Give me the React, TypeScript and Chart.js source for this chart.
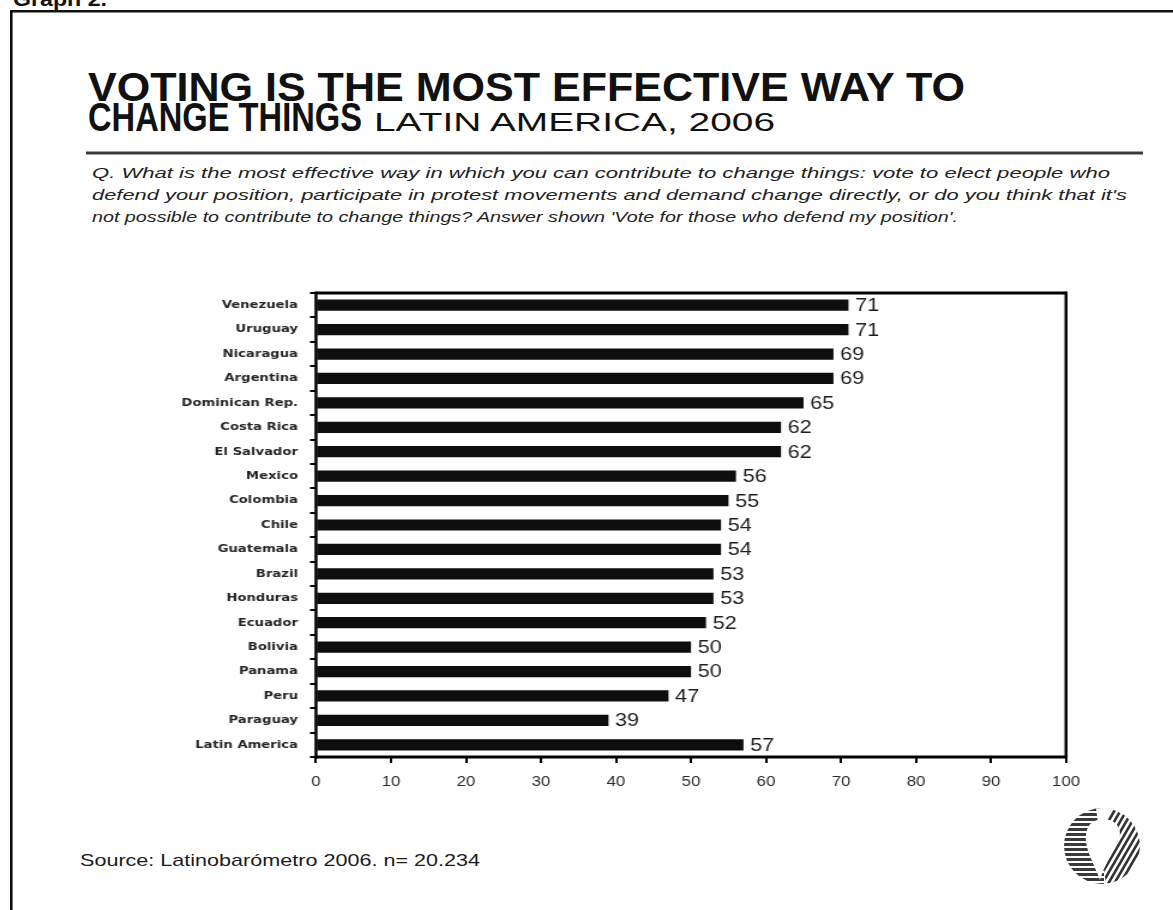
import React, { useEffect, useRef } from 'react';
import { Chart, registerables } from 'chart.js';

Chart.register(...registerables);

// ---------- data ----------
const CATEGORIES = [
  'Venezuela', 'Uruguay', 'Nicaragua', 'Argentina', 'Dominican Rep.', 'Costa Rica',
  'El Salvador', 'Mexico', 'Colombia', 'Chile', 'Guatemala', 'Brazil', 'Honduras',
  'Ecuador', 'Bolivia', 'Panama', 'Peru', 'Paraguay', 'Latin America',
];
const VALUES = [71, 71, 69, 69, 65, 62, 62, 56, 55, 54, 54, 53, 53, 52, 50, 50, 47, 39, 57];
const X_TICKS = [0, 10, 20, 30, 40, 50, 60, 70, 80, 90, 100];

const HEADER = 'Graph 2.';
const TITLE_LINE1 = 'VOTING IS THE MOST EFFECTIVE WAY TO';
const TITLE_LINE2 = 'CHANGE THINGS';
const TITLE_SUB = 'LATIN AMERICA, 2006';
const QUESTION = [
  'Q. What is the most effective way in which you can contribute to change things: vote to elect people who',
  "defend your position, participate in protest movements and demand change directly, or do you think that it's",
  "not possible to contribute to change things? Answer shown 'Vote for those who defend my position'.",
];
const SOURCE = 'Source: Latinobarómetro 2006. n= 20.234';

// ---------- layout ----------
const PAGE_W = 1173;
const PAGE_H = 910;
const CANVAS_W = 978; // rendered width, stretched to PAGE_W (the original is horizontally stretched)
const SX = PAGE_W / CANVAS_W;
const PLOT_LEFT = 316;
const PLOT_RIGHT = 1066;
const PLOT_TOP = 293;
const PLOT_BOTTOM = 757;
const X_AXIS_H = 40;

const QUESTION_LAYOUT = [
  { y: 178, w: 1018 },
  { y: 200, w: 1035 },
  { y: 222, w: 866 },
];

const framePlugin = {
  id: 'plotFrame',
  afterDraw(chart: any) {
    const { ctx, chartArea: a } = chart;
    ctx.save();
    ctx.strokeStyle = '#000';
    ctx.lineWidth = 3;
    ctx.beginPath();
    ctx.moveTo(a.left, a.top);
    ctx.lineTo(a.right, a.top);
    ctx.moveTo(a.left, a.bottom);
    ctx.lineTo(a.right, a.bottom);
    ctx.stroke();
    ctx.lineWidth = 2.5;
    ctx.beginPath();
    ctx.moveTo(a.left, a.top - 1.5);
    ctx.lineTo(a.left, a.bottom + 1.5);
    ctx.moveTo(a.right, a.top - 1.5);
    ctx.lineTo(a.right, a.bottom + 1.5);
    ctx.stroke();
    ctx.restore();
  },
};

const valueLabelPlugin = {
  id: 'valueLabels',
  afterDatasetsDraw(chart: any) {
    const { ctx } = chart;
    const meta = chart.getDatasetMeta(0);
    const data = chart.data.datasets[0].data;
    ctx.save();
    ctx.font = '18px "Liberation Sans", Arial, sans-serif';
    ctx.fillStyle = '#1c1c1c';
    ctx.textAlign = 'left';
    ctx.textBaseline = 'middle';
    meta.data.forEach((el: any, i: number) => {
      ctx.fillText(String(data[i]), el.x + 5.5, el.y + 1);
    });
    ctx.restore();
  },
};

function BarChart() {
  const ref = useRef<HTMLCanvasElement | null>(null);
  useEffect(() => {
    if (!ref.current) return;
    const chart = new Chart(ref.current, {
      type: 'bar',
      data: {
        labels: CATEGORIES,
        datasets: [
          {
            data: VALUES,
            backgroundColor: '#0e0e0e',
            borderWidth: 0,
            barPercentage: 0.46,
            categoryPercentage: 1,
          },
        ],
      },
      options: {
        indexAxis: 'y',
        responsive: false,
        animation: false,
        devicePixelRatio: 1,
        events: [],
        layout: {
          padding: {
            left: 0,
            top: PLOT_TOP,
            right: CANVAS_W - PLOT_RIGHT / SX,
            bottom: PAGE_H - PLOT_BOTTOM - X_AXIS_H,
          },
        },
        plugins: {
          legend: { display: false },
          tooltip: { enabled: false },
          title: { display: false },
        },
        scales: {
          x: {
            type: 'linear',
            position: 'bottom',
            min: 0,
            max: 100,
            afterBuildTicks: (s: any) => {
              s.ticks = X_TICKS.map((v) => ({ value: v }));
            },
            afterFit: (s: any) => {
              s.height = X_AXIS_H;
            },
            ticks: {
              font: { family: '"Liberation Sans", Arial, sans-serif', size: 14 },
              color: '#2a2a2a',
              padding: 11,
              maxRotation: 0,
              autoSkip: false,
            },
            grid: { drawOnChartArea: false, drawTicks: true, tickLength: 6, color: '#000', lineWidth: 2 },
            border: { display: false },
          },
          y: {
            type: 'category',
            afterFit: (s: any) => {
              s.width = PLOT_LEFT / SX;
            },
            ticks: {
              font: { family: '"DejaVu Sans", sans-serif', size: 11, weight: 'bold' },
              color: '#262626',
              padding: 10,
              autoSkip: false,
            },
            grid: { drawOnChartArea: false, drawTicks: true, tickLength: 5, color: '#000', lineWidth: 2, offset: true },
            border: { display: false },
          },
        },
      },
      plugins: [framePlugin, valueLabelPlugin],
    } as any);
    return () => chart.destroy();
  }, []);
  return (
    <canvas
      ref={ref}
      width={CANVAS_W}
      height={PAGE_H}
      style={{ position: 'absolute', left: 0, top: 0, width: PAGE_W + 'px', height: PAGE_H + 'px' }}
    />
  );
}

function Logo() {
  const cx = 1102;
  const cy = 846;
  const r = 38;
  const hStripes: number[] = [];
  for (let y = cy - r; y < cy + r; y += 5) hStripes.push(y);
  const dStripes: number[] = [];
  for (let x = cx - 30; x < cx + 70; x += 6) dStripes.push(x);
  return (
    <g>
      <defs>
        <clipPath id="logoClip">
          <circle cx={cx} cy={cy} r={r} />
        </clipPath>
        <clipPath id="logoRight">
          <path d={`M${cx - 6} ${cy - r} L${cx + r} ${cy - r} L${cx + r} ${cy + r} L${cx + 4} ${cy + r} Z`} />
        </clipPath>
      </defs>
      <g clipPath="url(#logoClip)">
        {hStripes.map((y) => (
          <rect key={'h' + y} x={cx - r} y={y} width={r + 2} height={3} fill="#3a3a3a" />
        ))}
        <g clipPath="url(#logoRight)">
          <rect x={cx - 8} y={cy - r} width={r + 10} height={2 * r} fill="#fff" />
          {dStripes.map((x) => (
            <line key={'d' + x} x1={x} y1={cy + r} x2={x + 44} y2={cy - r} stroke="#333" strokeWidth={2.6} />
          ))}
        </g>
        <path
          d={`M${cx - 4} ${cy - 26} C ${cx + 14} ${cy - 30}, ${cx + 22} ${cy - 16}, ${cx + 16} ${cy - 4} C ${cx + 10} ${cy + 8}, ${cx + 2} ${cy + 20}, ${cx - 2} ${cy + 34} C ${cx - 8} ${cy + 18}, ${cx - 18} ${cy + 2}, ${cx - 16} ${cy - 12} C ${cx - 14} ${cy - 22}, ${cx - 10} ${cy - 25}, ${cx - 4} ${cy - 26} Z`}
          fill="#fff"
        />
      </g>
    </g>
  );
}

function Decorations() {
  const sans = '"Liberation Sans", Arial, Helvetica, sans-serif';
  const narrow = '"Liberation Sans Narrow", "Arial Narrow", "Liberation Sans", Arial, sans-serif';
  return (
    <svg
      width={PAGE_W}
      height={PAGE_H}
      style={{ position: 'absolute', left: 0, top: 0 }}
      xmlns="http://www.w3.org/2000/svg"
    >
      <rect x={0} y={0} width={PAGE_W} height={PAGE_H} fill="#fff" />
      <path d={`M11.3 ${PAGE_H} V11.3 H${PAGE_W}`} stroke="#111" strokeWidth={2.6} fill="none" />
      <text x={13} y={6} fontFamily={sans} fontWeight="bold" fontSize={20} fill="#111" textLength={94} lengthAdjust="spacingAndGlyphs">
        {HEADER}
      </text>
      <text x={88} y={101} fontFamily={sans} fontWeight="bold" fontSize={40} fill="#111" textLength={877} lengthAdjust="spacingAndGlyphs">
        {TITLE_LINE1}
      </text>
      <text x={88} y={131} fontFamily={narrow} fontWeight="bold" fontSize={40} fill="#111" textLength={274} lengthAdjust="spacingAndGlyphs">
        {TITLE_LINE2}
      </text>
      <text x={374} y={131} fontFamily={sans} fontSize={26} fill="#111" textLength={401} lengthAdjust="spacingAndGlyphs">
        {TITLE_SUB}
      </text>
      <line x1={86} x2={1143} y1={153} y2={153} stroke="#3a3a3a" strokeWidth={3} />
      {QUESTION.map((line, i) => (
        <text
          key={i}
          x={92}
          y={QUESTION_LAYOUT[i].y}
          fontFamily={sans}
          fontStyle="italic"
          fontSize={15.5}
          fill="#222"
          textLength={QUESTION_LAYOUT[i].w}
          lengthAdjust="spacingAndGlyphs"
        >
          {line}
        </text>
      ))}
      <text x={80} y={866} fontFamily={sans} fontSize={17} fill="#1c1c1c" textLength={400} lengthAdjust="spacingAndGlyphs">
        {SOURCE}
      </text>
      <Logo />
    </svg>
  );
}

export default function App() {
  return (
    <div
      style={{
        position: 'fixed',
        left: 0,
        top: 0,
        width: PAGE_W + 'px',
        height: PAGE_H + 'px',
        background: '#fff',
        overflow: 'hidden',
      }}
    >
      <Decorations />
      <BarChart />
    </div>
  );
}
